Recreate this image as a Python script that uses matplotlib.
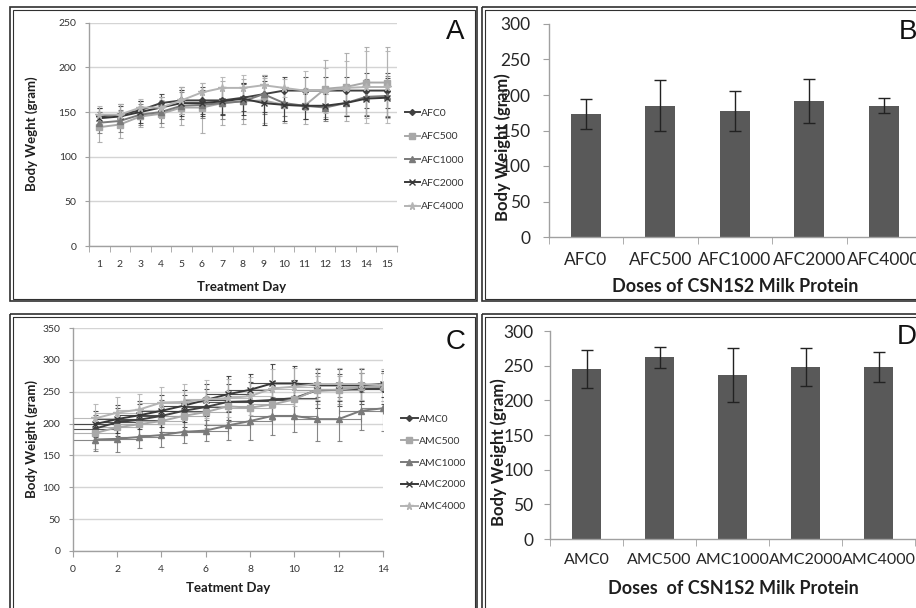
import numpy as np
import matplotlib.pyplot as plt
from matplotlib.patches import Rectangle

plt.rcParams['font.family'] = ['Lato', 'DejaVu Sans']

W, H = 916, 608

# ---- Panel A: female body weight per day (line chart)
days_a = list(range(1, 16))
afc_labels = ['AFC0', 'AFC500', 'AFC1000', 'AFC2000', 'AFC4000']
afc0 = [145, 147, 152, 160, 163, 163, 163, 166, 170, 174, 174, 174, 174, 174, 174]
afc500 = [133, 136, 145, 148, 155, 155, 160, 162, 163, 158, 157, 176, 178, 183, 183]
afc1000 = [138, 140, 147, 150, 157, 158, 160, 162, 170, 160, 157, 155, 160, 167, 168]
afc2000 = [143, 145, 150, 155, 160, 160, 162, 165, 160, 158, 157, 157, 160, 165, 166]
afc4000 = [147, 147, 155, 155, 163, 172, 177, 177, 180, 177, 174, 174, 177, 178, 178]
afc0_err = [10, 12, 10, 10, 15, 15, 15, 15, 20, 15, 15, 15, 15, 20, 20]
afc500_err = [17, 15, 12, 15, 20, 28, 25, 25, 25, 20, 20, 32, 38, 40, 40]
afc1000_err = [12, 12, 12, 12, 15, 15, 18, 20, 22, 15, 15, 15, 15, 20, 22]
afc2000_err = [12, 12, 12, 12, 15, 15, 15, 18, 25, 18, 15, 15, 15, 20, 22]
afc4000_err = [10, 12, 10, 12, 15, 10, 12, 15, 12, 10, 22, 25, 30, 40, 40]

# ---- Panel B: female mean body weight per dose
afc_mean = [173, 185, 177, 191, 185]
afc_sd = [21, 36, 28, 31, 11]

# ---- Panel C: male body weight per day (scatter with lines)
days_c = list(range(1, 15))
amc_labels = ['AMC0', 'AMC500', 'AMC1000', 'AMC2000', 'AMC4000']
amc0 = [192, 202, 206, 212, 220, 226, 234, 235, 237, 240, 252, 253, 255, 255]
amc500 = [185, 194, 199, 204, 212, 218, 227, 225, 230, 238, 253, 253, 257, 258]
amc1000 = [175, 176, 179, 182, 187, 189, 197, 204, 212, 212, 207, 207, 220, 224]
amc2000 = [199, 207, 213, 220, 228, 237, 246, 253, 263, 263, 260, 260, 260, 262]
amc4000 = [208, 217, 222, 233, 234, 238, 240, 243, 255, 258, 262, 262, 262, 260]
amc0_err = [22, 22, 25, 25, 25, 28, 28, 30, 30, 28, 28, 25, 25, 25]
amc500_err = [25, 22, 22, 22, 22, 25, 25, 25, 25, 25, 22, 22, 22, 22]
amc1000_err = [18, 20, 18, 18, 18, 17, 22, 30, 30, 25, 35, 35, 30, 35]
amc2000_err = [20, 22, 22, 25, 25, 25, 28, 25, 30, 28, 25, 25, 25, 20]
amc4000_err = [22, 25, 25, 25, 28, 30, 30, 30, 30, 30, 25, 25, 25, 25]
day_xerr = 1

# ---- Panel D: male mean body weight per dose
amc_mean = [245, 262, 237, 248, 248]
amc_sd = [27, 15, 39, 28, 21]

# series styles (Excel grayscale look)
styles = [
    dict(color='#404040', marker='D', ms=3),
    dict(color='#a8a8a8', marker='s', ms=4.5),
    dict(color='#7a7a7a', marker='^', ms=4.5),
    dict(color='#383838', marker='x', ms=4.5),
    dict(color='#b4b4b4', marker='*', ms=5.5),
]
GRID = '#d4d4d4'
AXC = '#a0a0a0'
LBL = '#1e1e1e'


def rect(l, t, r, b):
    return [l / W, 1 - b / H, (r - l) / W, (b - t) / H]


def fp(x, y):
    return (x / W, 1 - y / H)


fig = plt.figure(figsize=(W / 100, H / 100), dpi=100)

# panel frames (double lines)
bg = fig.add_axes([0, 0, 1, 1])
bg.set_xlim(0, W)
bg.set_ylim(H, 0)
bg.axis('off')
for (l, t, r, b) in [(10, 7, 477, 301), (482, 7, 925, 301),
                     (10, 314, 477, 620), (482, 314, 925, 620)]:
    bg.add_patch(Rectangle((l, t), r - l, b - t, fill=False, lw=1.2, ec='#303030'))
    bg.add_patch(Rectangle((l + 2.5, t + 2.5), r - l - 5, b - t - 5, fill=False, lw=0.8, ec='#303030'))


def style_axes(ax, tick_fs, txt):
    ax.set_facecolor('none')
    for s in ['top', 'right']:
        ax.spines[s].set_visible(False)
    for s in ['left', 'bottom']:
        ax.spines[s].set_color(AXC)
        ax.spines[s].set_linewidth(1.0)
    ax.tick_params(colors=AXC, labelcolor=txt, labelsize=tick_fs)


def line_panel(ax, x, ys, errs, labels, xerr=None):
    for y, e, lab, st in zip(ys, errs, labels, styles):
        ax.errorbar(x, y, yerr=e, xerr=xerr, fmt='none', ecolor=st['color'],
                    elinewidth=0.8, capsize=1.8, capthick=0.8, alpha=0.9, zorder=2)
        ax.plot(x, y, color=st['color'], lw=1.4, marker=st['marker'], ms=st['ms'],
                mew=1.0, label=lab, zorder=3)


# ---------------- Panel A
axA = fig.add_axes(rect(89, 22.7, 397, 246))
style_axes(axA, 7.5, '#333333')
line_panel(axA, days_a, [afc0, afc500, afc1000, afc2000, afc4000],
           [afc0_err, afc500_err, afc1000_err, afc2000_err, afc4000_err], afc_labels)
axA.set_xlim(0.5, 15.5)
axA.set_ylim(0, 250)
axA.set_yticks(range(0, 251, 50))
axA.set_xticks(days_a)
axA.set_xticks(np.arange(0.5, 15.6, 1), minor=True)
axA.tick_params(axis='x', which='major', length=0, pad=10)
axA.tick_params(axis='x', which='minor', length=4, color=AXC)
axA.tick_params(axis='y', length=3, pad=6)
axA.yaxis.grid(True, color=GRID, lw=1)
axA.set_axisbelow(True)
axA.set_ylabel('Body Weght (gram)', fontsize=9.5, fontweight='bold', color=LBL, va='center')
axA.yaxis.set_label_coords(*fp(32, 134), transform=fig.transFigure)
axA.set_xlabel('Treatment Day', fontsize=9.5, fontweight='bold', color=LBL, va='center')
axA.xaxis.set_label_coords(*fp(242, 287), transform=fig.transFigure)
legA = axA.legend(loc='center left', bbox_to_anchor=fp(405, 160), bbox_transform=fig.transFigure,
                  frameon=False, fontsize=7.5, handlelength=1.4, handletextpad=0.1,
                  labelspacing=1.35, borderpad=0, borderaxespad=0)
for t in legA.get_texts():
    t.set_color('#333333')

# ---------------- Panel B
x5 = np.arange(5)
axB = fig.add_axes(rect(548.5, 24, 548.5 + 5 * 74.5, 237))
style_axes(axB, 12.5, '#262626')
axB.bar(x5, afc_mean, width=0.4, color='#595959', zorder=2)
axB.errorbar(x5, afc_mean, yerr=afc_sd, fmt='none', ecolor='#222222', elinewidth=1,
             capsize=4.3, capthick=1, zorder=3)
axB.set_xlim(-0.5, 4.5)
axB.set_ylim(0, 300)
axB.set_yticks(range(0, 301, 50))
axB.set_xticks(x5)
axB.set_xticklabels(afc_labels)
axB.set_xticks(np.arange(-0.5, 4.6, 1), minor=True)
axB.tick_params(axis='x', which='major', length=0, pad=11)
axB.tick_params(axis='x', which='minor', length=5, color=AXC)
axB.tick_params(axis='y', length=4, pad=9)
axB.set_ylabel('Body Weight (gram)', fontsize=12, fontweight='bold', color=LBL, va='center')
axB.yaxis.set_label_coords(*fp(503, 147), transform=fig.transFigure)
axB.set_xlabel('Doses of CSN1S2 Milk Protein', fontsize=13, fontweight='bold',
               color=LBL, va='center')
axB.xaxis.set_label_coords(*fp(735, 287), transform=fig.transFigure)

# ---------------- Panel C
axC = fig.add_axes(rect(72.7, 328, 383, 551))
style_axes(axC, 7.5, '#333333')
line_panel(axC, days_c, [amc0, amc500, amc1000, amc2000, amc4000],
           [amc0_err, amc500_err, amc1000_err, amc2000_err, amc4000_err], amc_labels,
           xerr=day_xerr)
axC.set_xlim(0, 14)
axC.set_ylim(0, 350)
axC.set_yticks(range(0, 351, 50))
axC.set_xticks(range(0, 15, 2))
axC.tick_params(axis='x', length=4, pad=6)
axC.tick_params(axis='y', length=3, pad=6)
axC.yaxis.grid(True, color=GRID, lw=1)
axC.set_axisbelow(True)
axC.set_ylabel('Body Weight (gram)', fontsize=9.5, fontweight='bold', color=LBL, va='center')
axC.yaxis.set_label_coords(*fp(32, 439), transform=fig.transFigure)
axC.set_xlabel('Teatment Day', fontsize=9.5, fontweight='bold', color=LBL, va='center')
axC.xaxis.set_label_coords(*fp(228, 588), transform=fig.transFigure)
legC = axC.legend(loc='center left', bbox_to_anchor=fp(401, 463), bbox_transform=fig.transFigure,
                  frameon=False, fontsize=7.5, handlelength=1.6, handletextpad=0.1,
                  labelspacing=1.2, borderpad=0, borderaxespad=0)
for t in legC.get_texts():
    t.set_color('#333333')

# ---------------- Panel D
axD = fig.add_axes(rect(550, 331, 550 + 5 * 73, 539))
style_axes(axD, 12.5, '#262626')
axD.bar(x5, amc_mean, width=0.4, color='#595959', zorder=2)
axD.errorbar(x5, amc_mean, yerr=amc_sd, fmt='none', ecolor='#222222', elinewidth=1,
             capsize=4.3, capthick=1, zorder=3)
axD.set_xlim(-0.5, 4.5)
axD.set_ylim(0, 300)
axD.set_yticks(range(0, 301, 50))
axD.set_xticks(x5)
axD.set_xticklabels(amc_labels, fontsize=11.5)
axD.set_xticks(np.arange(-0.5, 4.6, 1), minor=True)
axD.tick_params(axis='x', which='major', length=0, pad=10)
axD.tick_params(axis='x', which='minor', length=5, color=AXC)
axD.tick_params(axis='y', length=4, pad=8)
axD.set_ylabel('Body Weight (gram)', fontsize=12, fontweight='bold', color=LBL, va='center')
axD.yaxis.set_label_coords(*fp(499, 452), transform=fig.transFigure)
axD.set_xlabel('Doses  of CSN1S2 Milk Protein', fontsize=13, fontweight='bold',
               color=LBL, va='center')
axD.xaxis.set_label_coords(*fp(733, 588), transform=fig.transFigure)

# panel letters
for letter, (x, y) in zip('ABCD', [(446, 39), (899, 39), (446, 349), (897, 344)]):
    fig.text(*fp(x, y), letter, fontsize=20, family='Liberation Sans', color='#111111',
             ha='left', va='baseline')

fig.savefig('out.png', dpi=100)
